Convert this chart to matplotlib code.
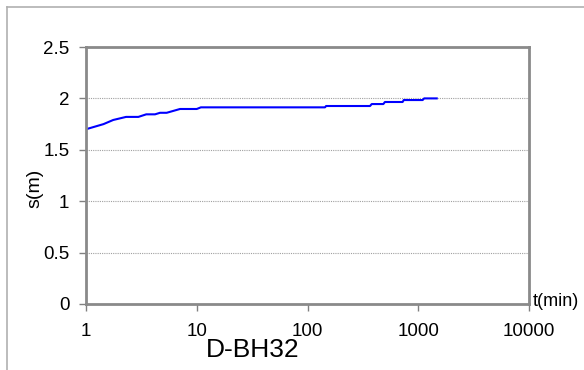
import matplotlib
matplotlib.use("Agg")
import matplotlib.pyplot as plt
from matplotlib.lines import Line2D

plt.rcParams['font.family'] = ['Liberation Sans', 'DejaVu Sans']

# drawdown curve
t_min = [1, 1.44, 1.76, 2.3, 2.97, 3.5, 4.2, 4.66, 5.35, 7.06, 10.0, 10.9,
         144, 147, 367, 380, 484, 500, 722, 740, 1096, 1130, 1468]
s_m = [1.70, 1.75, 1.79, 1.82, 1.82, 1.845, 1.845, 1.86, 1.86, 1.897, 1.897, 1.913,
       1.913, 1.926, 1.926, 1.945, 1.945, 1.965, 1.965, 1.984, 1.984, 2.0, 2.0]

x_ticks = [1, 10, 100, 1000, 10000]
x_tick_labels = ["1", "10", "100", "1000", "10000"]
y_ticks = [0, 0.5, 1, 1.5, 2, 2.5]
y_tick_labels = ["0", "0.5", "1", "1.5", "2", "2.5"]

W, H = 584, 370
fig = plt.figure(figsize=(W / 100, H / 100), dpi=100)
ax = fig.add_axes([86 / W, 1 - 304 / H, (529 - 86) / W, (304 - 47) / H])

ax.plot(t_min, s_m, color="#0000ff", lw=1.5)

ax.set_xscale("log")
ax.set_xlim(1, 10000)
ax.set_ylim(0, 2.5)
ax.set_xticks(x_ticks)
ax.set_xticklabels(x_tick_labels)
ax.set_yticks(y_ticks)
ax.set_yticklabels(y_tick_labels)
ax.minorticks_off()
ax.tick_params(axis="both", labelsize=13.5, length=5, color="#808080", width=1)
ax.tick_params(axis="x", pad=9)
ax.tick_params(axis="y", pad=7)

for y in y_ticks[1:-1]:
    ax.axhline(y, color="#a0a0a0", lw=0.8, ls=(0, (1, 1)), zorder=0)

for sp in ax.spines.values():
    sp.set_color("#8a8a8a")
    sp.set_linewidth(2)

fig.text(35 / W, 1 - 188 / H, "s(m)", rotation=90, fontsize=14,
         ha="center", va="center")
fig.text(533 / W, 1 - 301 / H, "t(min)", fontsize=13, ha="left", va="center")
fig.text(253 / W, 1 - 350 / H, "D-BH32", fontsize=19, ha="center", va="center")

# outer chart frame (top and left edges visible)
fig.add_artist(Line2D([7 / W, 1], [1 - 7 / H, 1 - 7 / H], color="#b0b0b0", lw=1.2,
                      transform=fig.transFigure))
fig.add_artist(Line2D([7 / W, 7 / W], [0, 1 - 7 / H], color="#b0b0b0", lw=1.2,
                      transform=fig.transFigure))

fig.savefig("out.png", dpi=100)
